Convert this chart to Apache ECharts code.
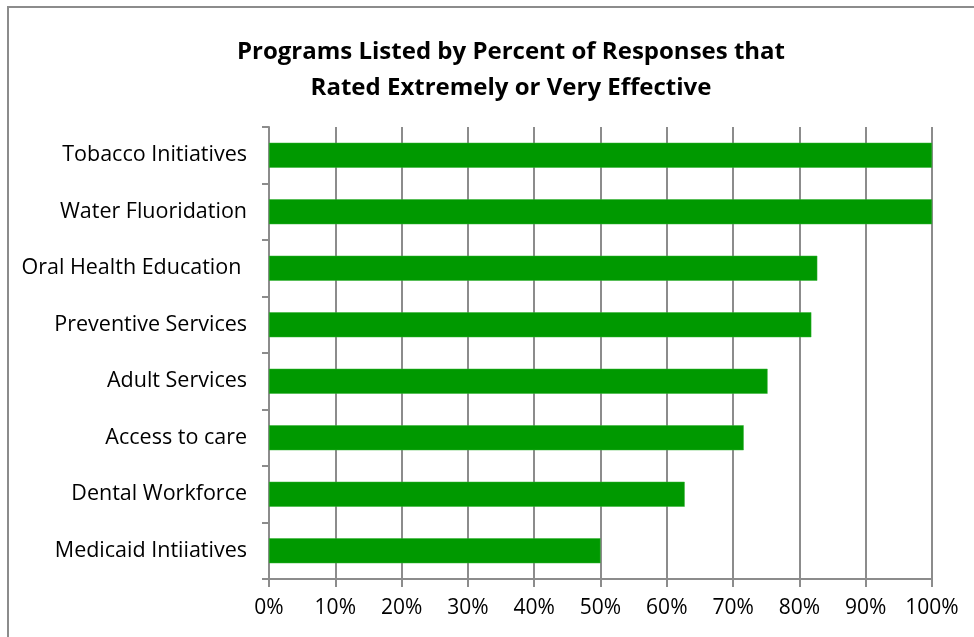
<!DOCTYPE html>
<html>
<head>
<meta charset="utf-8">
<script src="https://cdn.jsdelivr.net/npm/echarts@6/dist/echarts.min.js"></script>
<style>
  html, body { margin: 0; padding: 0; background: #fff; }
  #chart { width: 974px; height: 637px; }
</style>
</head>
<body>
<div id="chart"></div>
<script>
// programs, top to bottom
const programs = [
  'Tobacco Initiatives',
  'Water Fluoridation',
  'Oral Health Education ',
  'Preventive Services',
  'Adult Services',
  'Access to care',
  'Dental Workforce',
  'Medicaid Intiiatives',
];
// percent rated extremely / very effective
const percents = [100, 100, 82.7, 81.8, 75.2, 71.6, 62.7, 50];

const gray = '#8c8c8c';
const font = '"Open Sans", sans-serif';

const chart = echarts.init(document.getElementById('chart'));
chart.setOption({
  animation: false,
  title: {
    text: 'Programs Listed by Percent of Responses that\nRated Extremely or Very Effective',
    left: 506,
    top: 29,
    textAlign: 'center',
    textStyle: {
      fontFamily: font,
      fontSize: 24,
      fontWeight: 'bold',
      color: '#000',
      lineHeight: 36,
    },
  },
  graphic: [
    {
      type: 'rect',
      shape: { x: 8, y: 7, width: 1000, height: 700 },
      style: { fill: 'none', stroke: gray, lineWidth: 2 },
    },
  ],
  grid: {
    left: 269,
    right: 42,
    top: 127,
    bottom: 58,
  },
  xAxis: {
    type: 'value',
    min: 0,
    max: 100,
    interval: 10,
    axisLine: { show: true, lineStyle: { color: gray, width: 2 } },
    axisTick: { show: true, length: 8, lineStyle: { color: gray, width: 2 } },
    axisLabel: {
      formatter: '{value}%',
      fontFamily: font,
      fontSize: 21,
      color: '#000',
      margin: 19,
    },
    splitLine: { show: true, lineStyle: { color: gray, width: 2 } },
  },
  yAxis: {
    type: 'category',
    inverse: true,
    data: programs,
    axisLine: { show: true, lineStyle: { color: gray, width: 2 } },
    axisTick: { show: true, length: 7, lineStyle: { color: gray, width: 2 } },
    axisLabel: {
      fontFamily: font,
      fontSize: 21.5,
      color: '#000',
      margin: 22,
    },
  },
  series: [
    {
      type: 'bar',
      data: percents,
      barWidth: 25,
      itemStyle: { color: '#009900', borderColor: '#33b033', borderWidth: 0.5 },
    },
  ],
});
</script>
</body>
</html>
